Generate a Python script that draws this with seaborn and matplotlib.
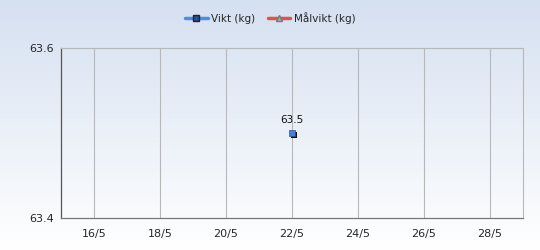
import numpy as np
import pandas as pd
import matplotlib
matplotlib.use("Agg")
import matplotlib.pyplot as plt
import matplotlib.transforms as mtransforms
from matplotlib.lines import Line2D
import seaborn as sns

dates = ["2025-05-22"]
weights = [63.5]
series_names = ["Vikt (kg)", "Målvikt (kg)"]
x_ticks = ["2025-05-16", "2025-05-18", "2025-05-20", "2025-05-22",
           "2025-05-24", "2025-05-26", "2025-05-28"]
tick_labels = ["16/5", "18/5", "20/5", "22/5", "24/5", "26/5", "28/5"]
y_ticks = [63.4, 63.6]

df = pd.DataFrame({"date": pd.to_datetime(dates), "weight": weights})

sns.set_style("white")
plt.rcParams["font.family"] = ["DejaVu Sans"]

fig = plt.figure(figsize=(5.4, 2.5), dpi=100)
bg = fig.add_axes([0, 0, 1, 1], zorder=-10)
grad = np.linspace(0, 1, 256).reshape(-1, 1)
cmap = matplotlib.colors.LinearSegmentedColormap.from_list("bg", ["#d5e0f1", "#ffffff"])
bg.imshow(grad, aspect="auto", cmap=cmap, extent=[0, 1, 0, 1], origin="upper")
bg.set_axis_off()

ax = fig.add_axes([61/540, 1 - 218/250, (523-61)/540, (218-48)/250])
ax.patch.set_alpha(0)

xmin = pd.Timestamp("2025-05-15")
xmax = pd.Timestamp("2025-05-29")

# shadow
sns.scatterplot(data=df, x="date", y="weight", ax=ax, marker="s", s=20,
                color="#111111", edgecolor="none", zorder=3, legend=False)
shadow = ax.collections[-1]
shadow.set_offset_transform(ax.transData + mtransforms.ScaledTranslation(2/100, -2/100, fig.dpi_scale_trans))
sns.scatterplot(data=df, x="date", y="weight", ax=ax, marker="s", s=20,
                color="#4a7fd4", edgecolor="#2a4f9a", linewidth=0.5, zorder=4, legend=False)

for d, w in zip(df["date"], df["weight"]):
    ax.annotate(f"{w:.1f}", (d, w), xytext=(0, 6), textcoords="offset points",
                ha="center", va="bottom", fontsize=7.5, color="#111111")

ax.set_xlim(xmin, xmax)
ax.set_ylim(63.4, 63.6)
ax.set_xticks(pd.to_datetime(x_ticks))
ax.set_xticklabels(tick_labels, fontsize=8)
ax.set_yticks(y_ticks)
ax.set_yticklabels([f"{v:.1f}" for v in y_ticks], fontsize=8)
ax.set_xlabel("")
ax.set_ylabel("")
ax.grid(axis="x", color="#b8b8b8", linewidth=0.8)
ax.grid(axis="y", visible=False)
ax.tick_params(axis="both", length=3, width=0.8, color="#333333", direction="out", pad=2)
ax.tick_params(axis="x", pad=5)
for side in ["top", "right"]:
    ax.spines[side].set_color("#b8b8b8")
    ax.spines[side].set_linewidth(0.8)
ax.spines["left"].set_color("#555555")
ax.spines["bottom"].set_color("#777777")
ax.spines["left"].set_linewidth(0.9)
ax.spines["bottom"].set_linewidth(0.9)

handles = [
    Line2D([0], [0], color="#4a8ee0", lw=2.5, marker="s", markersize=4,
           markerfacecolor="#2a4f9a", markeredgecolor="#222222"),
    Line2D([0], [0], color="#d9534f", lw=2.5, marker="^", markersize=4,
           markerfacecolor="#c0a0a0", markeredgecolor="#777777"),
]
fig.legend(handles, series_names, loc="center", bbox_to_anchor=(0.5, 1 - 18/250),
           ncol=2, frameon=False, fontsize=7.5, handlelength=2.2,
           handletextpad=0.3, columnspacing=1.2)

fig.savefig("out.png", dpi=100)
